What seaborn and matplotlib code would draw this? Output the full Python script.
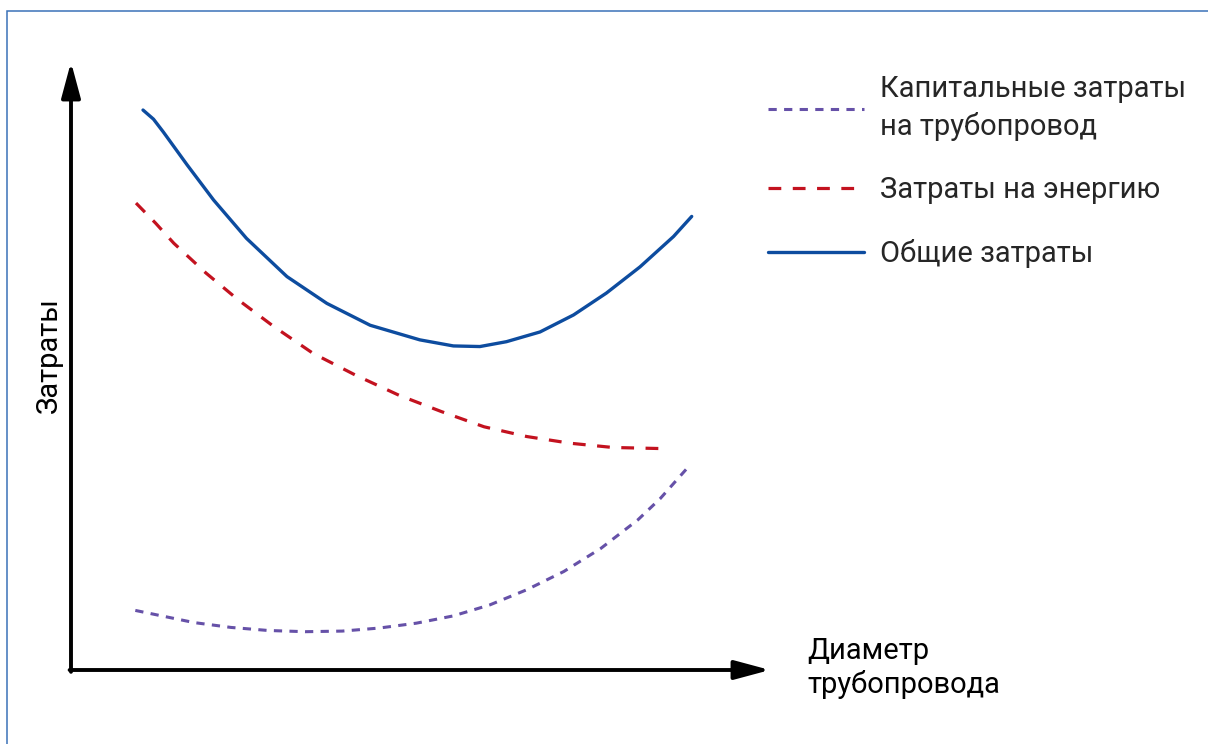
import matplotlib
matplotlib.use("Agg")
import matplotlib.pyplot as plt
from matplotlib.patches import Rectangle
import seaborn as sns

# Pipe diameter (relative units) and cost curves (relative units)
total_x = [1.03, 1.18, 1.32, 1.66, 2.04, 2.51, 3.09, 3.66, 4.28, 4.99, 5.47, 5.85,
           6.23, 6.71, 7.19, 7.66, 8.14, 8.62, 8.88]
total_y = [9.21, 9.06, 8.85, 8.31, 7.73, 7.10, 6.47, 6.03, 5.67, 5.43, 5.33, 5.32,
           5.40, 5.56, 5.84, 6.20, 6.63, 7.13, 7.46]

energy_x = [0.93, 1.21, 1.47, 1.93, 2.39, 2.90, 3.46, 4.07, 4.69, 5.30, 5.91, 6.52,
            7.14, 7.75, 8.52]
energy_y = [7.68, 7.35, 7.02, 6.53, 6.09, 5.65, 5.21, 4.85, 4.52, 4.25, 4.00, 3.84,
            3.73, 3.66, 3.64]

capital_x = [0.92, 1.34, 1.76, 2.29, 2.82, 3.35, 3.88, 4.41, 4.94, 5.47, 5.99, 6.52,
             7.05, 7.58, 8.11, 8.43, 8.80]
capital_y = [0.98, 0.88, 0.78, 0.70, 0.65, 0.63, 0.64, 0.69, 0.77, 0.89, 1.07, 1.32,
             1.62, 2.00, 2.47, 2.82, 3.30]

labels = ["Капитальные затраты\nна трубопровод", "Затраты на энергию", "Общие затраты"]
x_label = "Диаметр\nтрубопровода"
y_label = "Затраты"

sns.set_theme(style="white")
plt.rcParams["font.family"] = ["Roboto", "DejaVu Sans"]

W, H = 1208, 744
fig = plt.figure(figsize=(W / 100, H / 100), dpi=100)
ax = fig.add_axes([71 / W, (H - 670) / H, 699 / W, 608 / H])
ax.set_xlim(0, 10)
ax.set_ylim(0, 10)

sns.lineplot(x=capital_x, y=capital_y, sort=False, estimator=None, ax=ax,
             color="#6651a8", lw=2.2, label=labels[0],
             linestyle=(0, (2.7, 2.4)))
sns.lineplot(x=energy_x, y=energy_y, sort=False, estimator=None, ax=ax,
             color="#c3121f", lw=2.3, label=labels[1],
             linestyle=(0, (4.0, 3.6)))
sns.lineplot(x=total_x, y=total_y, sort=False, estimator=None, ax=ax,
             color="#0d4c9f", lw=2.4, label=labels[2])
for ln in ax.get_lines():
    ln.set_solid_joinstyle("round")
    ln.set_dash_joinstyle("round")

for s in ax.spines.values():
    s.set_visible(False)
ax.set_xticks([])
ax.set_yticks([])
ax.set_xlabel("")
ax.set_ylabel("")

# Axis arrows
arrow = dict(arrowstyle="-|>,head_length=1.08,head_width=0.29", lw=2.8,
             color="black", mutation_scale=20, shrinkA=0, shrinkB=0)
ax.annotate("", xy=(0, 1), xytext=(0, -0.003), xycoords="axes fraction",
            textcoords="axes fraction", arrowprops=arrow)
ax.annotate("", xy=(1, 0), xytext=(-0.002, 0), xycoords="axes fraction",
            textcoords="axes fraction", arrowprops=arrow)

fs = 21
ax.text(-0.0315, (670 - 355) / 608, y_label, transform=ax.transAxes,
        rotation=90, ha="center", va="center", fontsize=fs, color="black")
fig.text(807 / W, 1 - 637 / H, x_label, ha="left", va="top",
         fontsize=fs, color="black", linespacing=1.2)

leg = ax.legend(loc="upper left", bbox_to_anchor=(768 / W, 1 - 75 / H),
                bbox_transform=fig.transFigure, frameon=False, fontsize=fs,
                handlelength=3.3, handletextpad=0.55, labelspacing=1.2,
                borderpad=0, borderaxespad=0)
for t in leg.get_texts():
    t.set_linespacing(1.4)

# Frame around the figure
fig.add_artist(Rectangle((7 / W, -0.1), 1.2, 1.1 - 11 / H,
                         transform=fig.transFigure, fill=False,
                         ec="#3a72b8", lw=1.1))

fig.savefig("out.png", dpi=100, facecolor="white")
